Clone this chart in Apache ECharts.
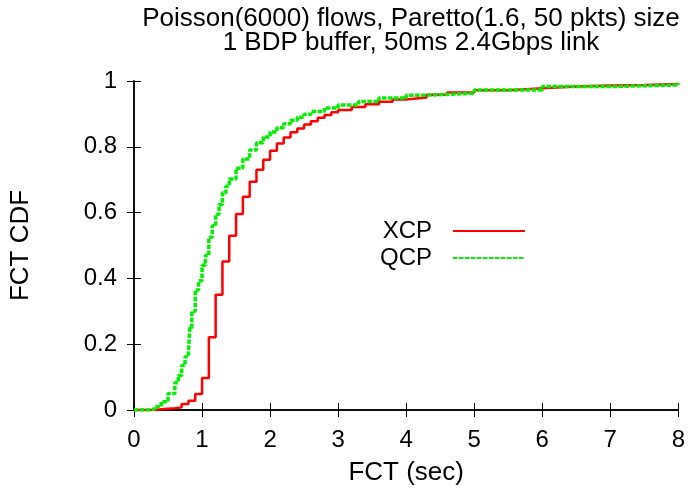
<!DOCTYPE html>
<html>
<head>
<meta charset="utf-8">
<title></title>
<style>body{margin:0;background:#fff}</style>
</head>
<body>
<div id="container" style="width:688px;height:495px;"></div>
<script src="https://cdn.jsdelivr.net/npm/echarts@6/dist/echarts.min.js"></script>
<script type="text/javascript">
'use strict'

// FCT (sec) at the left edge of each step, and CDF value on that step
var xcpX = [0, 0.3, 0.4, 0.5, 0.6, 0.7, 0.8, 0.9, 1.0, 1.1, 1.2, 1.3, 1.4, 1.5, 1.6, 1.7, 1.8, 1.9, 2.0,
	2.1, 2.2, 2.3, 2.4, 2.5, 2.6, 2.7, 2.8, 2.9, 3.0, 3.2, 3.4, 3.6, 3.8, 4.0, 4.3, 4.6, 5.0, 5.5, 6.0, 6.5, 7.0, 7.5, 8.0];
var xcpY = [0, 0.002, 0.004, 0.005, 0.008, 0.018, 0.028, 0.049, 0.097, 0.221, 0.35, 0.451, 0.53, 0.596, 0.648, 0.694, 0.73, 0.761, 0.788,
	0.81, 0.828, 0.844, 0.856, 0.868, 0.878, 0.888, 0.897, 0.905, 0.912, 0.921, 0.929, 0.937, 0.944, 0.95, 0.958, 0.965, 0.972, 0.978, 0.983, 0.986, 0.988, 0.991, 0.993];

var qcpX = [0, 0.2, 0.3, 0.4, 0.5, 0.6, 0.65, 0.7, 0.75, 0.8, 0.82, 0.85, 0.9, 0.95, 1.0, 1.05, 1.1, 1.15, 1.2, 1.25, 1.3, 1.35, 1.4,
	1.5, 1.6, 1.7, 1.8, 1.9, 2.0, 2.1, 2.2, 2.3, 2.4, 2.5, 2.6, 2.8, 3.0, 3.3, 3.6, 4.0, 4.3, 5.0, 6.0, 7.0, 8.0];
var qcpY = [0, 0.002, 0.01, 0.025, 0.05, 0.083, 0.105, 0.135, 0.162, 0.175, 0.25, 0.3, 0.365, 0.393, 0.44, 0.47, 0.525, 0.56, 0.595, 0.625, 0.66, 0.68, 0.702,
	0.735, 0.763, 0.79, 0.812, 0.83, 0.845, 0.858, 0.87, 0.881, 0.89, 0.899, 0.907, 0.918, 0.927, 0.938, 0.948, 0.957, 0.963, 0.973, 0.983, 0.988, 0.993];

function pairs(xs, ys) {
	var out = [];
	for (var i = 0; i < xs.length; i++) out.push([xs[i], ys[i]]);
	return out;
}

var font = 'Liberation Sans';
var myCharts = echarts.init(document.getElementById('container'));
var tick = { show: true, inside: true, length: 7, lineStyle: { color: '#000', width: 1 } };
var line = { show: true, lineStyle: { color: '#000', width: 1.5 } };

// gnuplot style key: text first, line sample after it
function key(name, top) {
	return {
		orient: 'vertical',
		right: 157,
		top: top,
		align: 'right',
		itemWidth: 72,
		itemHeight: 14,
		itemStyle: { opacity: 0 },
		textStyle: { fontFamily: font, fontSize: 24, color: '#000', padding: [0, 16, 0, 0] },
		data: [name]
	};
}

var option = {
	animation: false,
	backgroundColor: '#fff',
	title: {
		text: 'Poisson(6000) flows, Paretto(1.6, 50 pkts) size\n1 BDP buffer, 50ms 2.4Gbps link',
		left: 406,
		top: 2,
		textAlign: 'center',
		textStyle: { fontFamily: font, fontSize: 26, fontWeight: 'normal', color: '#000', lineHeight: 24 }
	},
	legend: [key('XCP', 214), key('QCP', 241)],
	grid: { left: 134, right: 9, top: 81, bottom: 85 },
	xAxis: [{
		type: 'value', min: 0, max: 8, interval: 1,
		name: 'FCT (sec)', nameLocation: 'middle', nameGap: 50,
		nameTextStyle: { fontFamily: font, fontSize: 26, color: '#000' },
		axisLine: line, axisTick: tick, splitLine: { show: false },
		axisLabel: { fontFamily: font, fontSize: 24, color: '#000', margin: 18 }
	}, {
		type: 'value', min: 0, max: 8, interval: 1, position: 'top',
		axisLine: line, axisTick: tick, splitLine: { show: false }, axisLabel: { show: false }
	}],
	yAxis: [{
		type: 'value', min: 0, max: 1, interval: 0.2,
		name: 'FCT CDF', nameLocation: 'middle', nameGap: 100,
		nameTextStyle: { fontFamily: font, fontSize: 26, color: '#000' },
		axisLine: line, axisTick: tick, splitLine: { show: false },
		axisLabel: { fontFamily: font, fontSize: 24, color: '#000', margin: 17 }
	}, {
		type: 'value', min: 0, max: 1, interval: 0.2, position: 'right',
		axisLine: line, axisTick: tick, splitLine: { show: false }, axisLabel: { show: false }
	}],
	series: [{
		name: 'XCP',
		type: 'line',
		step: 'end',
		showSymbol: false,
		symbol: 'none',
		color: '#ff0000',
		lineStyle: { color: '#ff0000', width: 2.5 },
		data: pairs(xcpX, xcpY)
	}, {
		name: 'QCP',
		type: 'line',
		step: 'end',
		showSymbol: false,
		symbol: 'none',
		color: '#00f000',
		lineStyle: { color: '#00f000', width: 3.5, type: [4.5, 1.5] },
		data: pairs(qcpX, qcpY)
	}]
};
myCharts.setOption(option);
</script>
</body>
</html>
